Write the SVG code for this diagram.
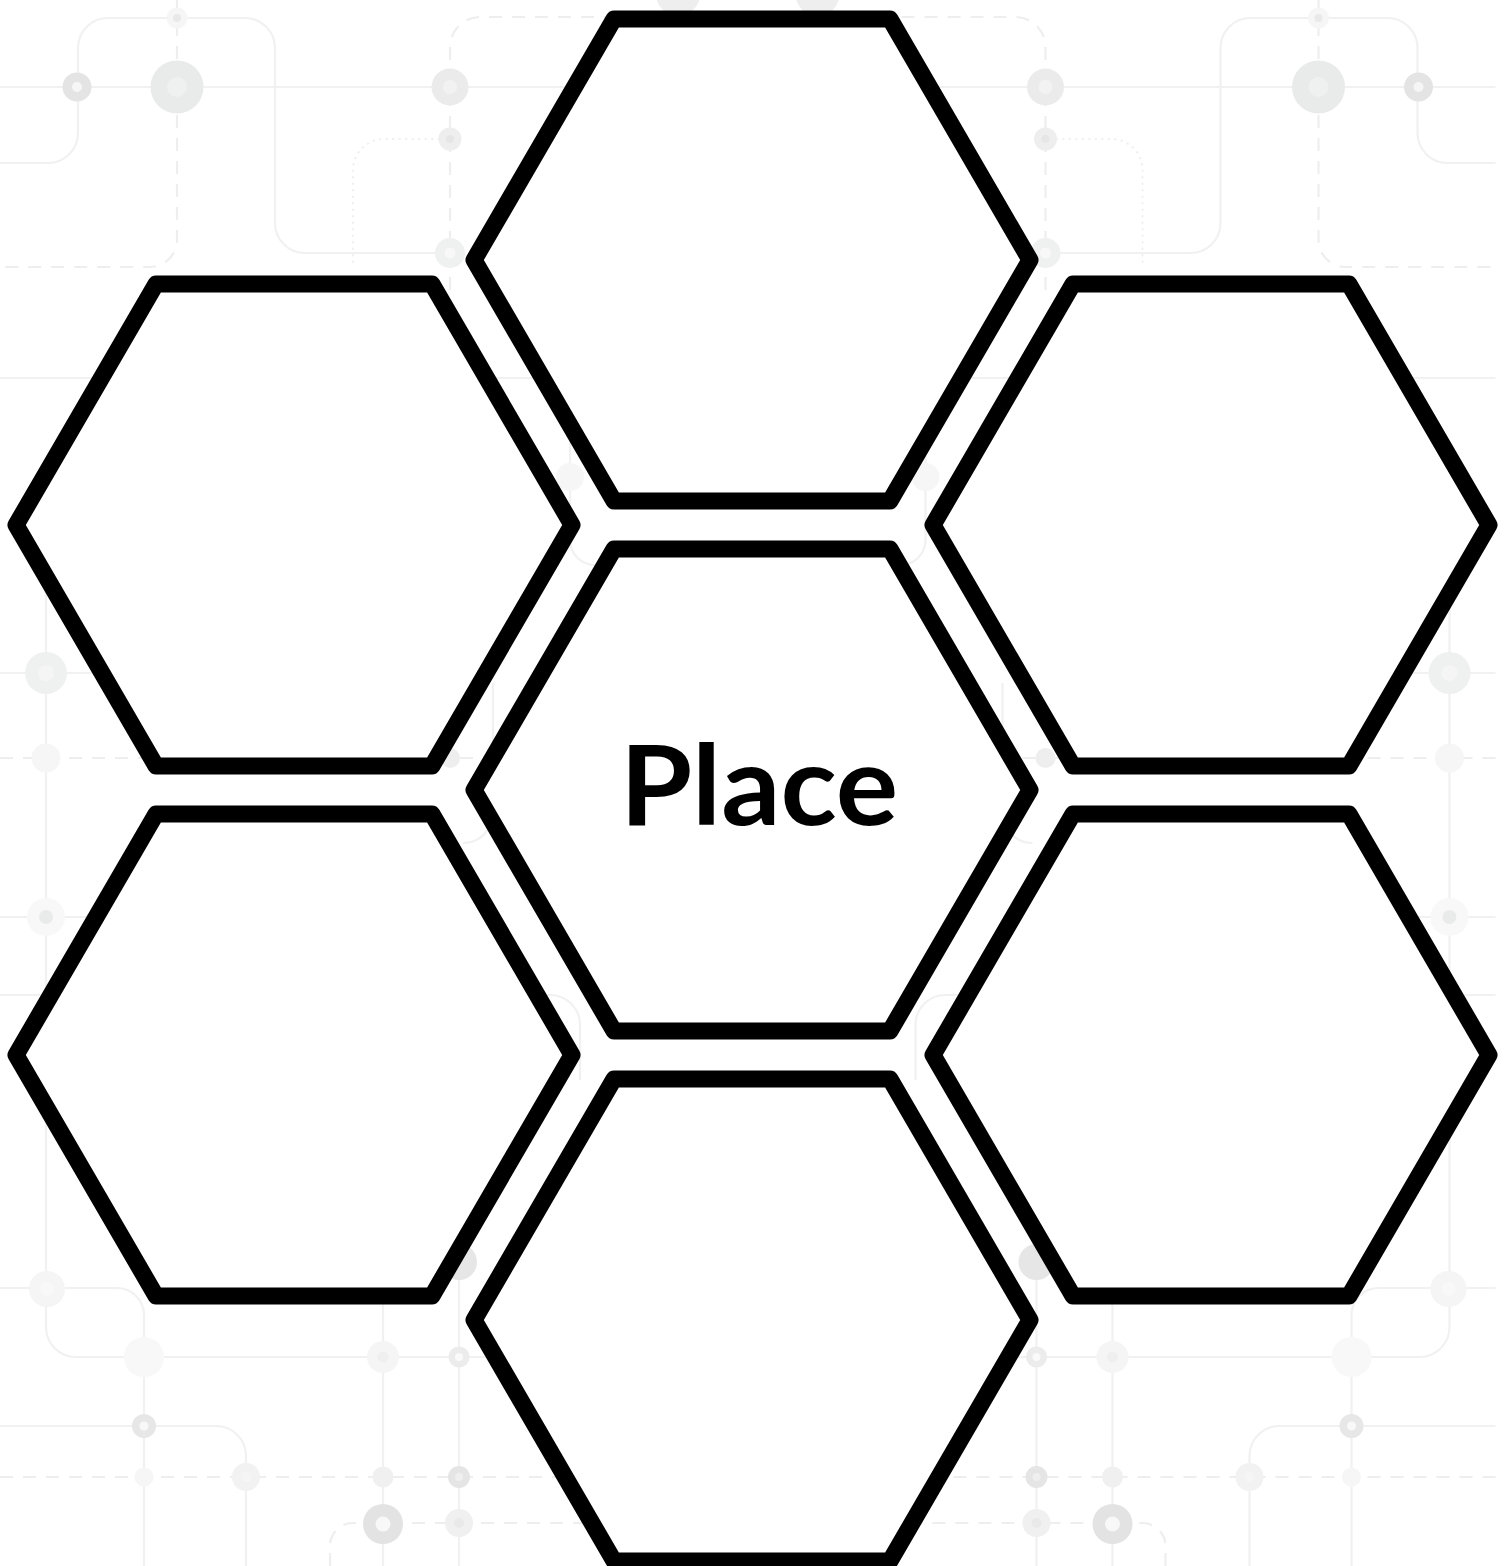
<svg xmlns="http://www.w3.org/2000/svg" xmlns:xlink="http://www.w3.org/1999/xlink" width="1509" height="1566" viewBox="0 0 1509 1566">
<style>
.ln{fill:none;stroke:#f1f1f1;stroke-width:2.2}
.dl{fill:none;stroke:#eeeeee;stroke-width:2.2;stroke-dasharray:13 10}
.dt{fill:none;stroke:#efefef;stroke-width:2;stroke-dasharray:0.5 6;stroke-linecap:round}
.hex{fill:#ffffff;stroke:#000000;stroke-width:17;stroke-linejoin:round}
.lbl{font-family:Lato,"Open Sans","Liberation Sans",sans-serif;font-weight:700;font-size:112px;fill:#000000}
</style>
<defs>
<polygon id="hexShape" points="-278,0 -138,-241 138,-241 278,0 138,241 -138,241"/>
<g id="bgL">
<path class="ln" d="M0,87 H748"/>
<path class="ln" d="M0,163 H48 A30,30 0 0 0 78,133 V48 A30,30 0 0 1 108,18 H245 A30,30 0 0 1 275,48 V223 A30,30 0 0 0 305,253 H450"/>
<path class="ln" d="M0,378 H748"/>
<path class="ln" d="M46,590 V1327 A30,30 0 0 0 76,1357 H748"/>
<path class="ln" d="M0,673 H120"/>
<path class="ln" d="M0,917 H100"/>
<path class="ln" d="M0,995 H550 A30,30 0 0 1 580,1025 V1080"/>
<path class="ln" d="M0,1288 H117 A27,27 0 0 1 144,1315 V1566"/>
<path class="ln" d="M0,1426 H216 A30,30 0 0 1 246,1456 V1566"/>
<path class="ln" d="M383,1300 V1566"/>
<path class="ln" d="M459,1240 V1566"/>
<path class="ln" d="M493,683 V813 A30,30 0 0 1 463,843"/>
<path class="ln" d="M570,440 V540 A25,25 0 0 0 595,565"/>
<path class="dl" d="M177,0 V240 A27,27 0 0 1 150,267 H0"/>
<path class="dl" d="M450,290 V47 A30,30 0 0 1 480,17 H748"/>
<path class="dl" d="M0,758 H748"/>
<path class="dl" d="M0,1477 H748"/>
<path class="dl" d="M330,1566 V1546 A23,23 0 0 1 353,1523 H748"/>
<path class="dt" d="M353,262 V170 A31,31 0 0 1 384,139 H450"/>
<circle cx="77" cy="87" r="14.5" fill="#e4e4e4"/><circle cx="77" cy="87" r="5" fill="#f6f6f6"/>
<circle cx="177" cy="87" r="26.5" fill="#e9eaea"/><circle cx="177" cy="87" r="10" fill="#eff0f0"/>
<circle cx="177" cy="18" r="10.5" fill="#f6f6f6"/><circle cx="177" cy="18" r="4" fill="#e9e9e9"/>
<circle cx="450" cy="87" r="18.5" fill="#ebebeb"/><circle cx="450" cy="87" r="7" fill="#f2f2f2"/>
<circle cx="450" cy="139" r="11.5" fill="#eeeeee"/><circle cx="450" cy="139" r="4" fill="#e6e6e6"/>
<circle cx="450" cy="253" r="15" fill="#eff0f0"/><circle cx="450" cy="253" r="5.5" fill="#f8f8f8"/>
<circle cx="678" cy="-6" r="22" fill="#eeeeee"/>
<circle cx="570" cy="477" r="14" fill="#f6f6f6"/>
<circle cx="450" cy="758" r="10" fill="#eeeeee"/>
<circle cx="46" cy="673" r="21" fill="#eff0f0"/><circle cx="46" cy="673" r="8" fill="#f5f5f5"/>
<circle cx="46" cy="758" r="14.5" fill="#f6f6f6"/>
<circle cx="46" cy="917" r="19" fill="#f8f8f8"/><circle cx="46" cy="917" r="7" fill="#e9eaea"/>
<circle cx="47" cy="1289" r="18" fill="#f5f5f5"/><circle cx="47" cy="1289" r="7" fill="#f8f8f8"/>
<circle cx="144" cy="1357" r="20" fill="#f8f8f8"/>
<circle cx="144" cy="1426" r="12" fill="#e7e7e7"/><circle cx="144" cy="1426" r="4.5" fill="#f8f8f8"/>
<circle cx="144" cy="1477" r="9.5" fill="#f6f6f6"/>
<circle cx="246" cy="1477" r="14" fill="#f2f2f2"/><circle cx="246" cy="1477" r="5" fill="#f5f5f5"/>
<circle cx="383" cy="1357" r="16" fill="#f5f5f5"/><circle cx="383" cy="1357" r="5.5" fill="#efefef"/>
<circle cx="383" cy="1477" r="10.5" fill="#f0f0f0"/>
<circle cx="383" cy="1524" r="20" fill="#e3e3e3"/><circle cx="383" cy="1524" r="7.5" fill="#f8f8f8"/>
<circle cx="459" cy="1262" r="18" fill="#e6e6e6"/>
<circle cx="459" cy="1357" r="10.5" fill="#ececec"/><circle cx="459" cy="1357" r="4" fill="#fafafa"/>
<circle cx="459" cy="1477" r="11" fill="#e5e5e5"/><circle cx="459" cy="1477" r="4" fill="#efefef"/>
<circle cx="459" cy="1523" r="14" fill="#f0f0f0"/><circle cx="459" cy="1523" r="5" fill="#e9e9e9"/>
</g>
</defs>
<rect x="0" y="0" width="1509" height="1566" fill="#ffffff"/>
<g id="background">
<use href="#bgL" xlink:href="#bgL"/>
<use href="#bgL" xlink:href="#bgL" transform="matrix(-1 0 0 1 1495.5 0)"/>
</g>
<g id="connectors"></g>
<g id="nodes">
<g id="hex-top" transform="translate(752,260)"><use class="hex" href="#hexShape" xlink:href="#hexShape"/></g>
<g id="hex-left-top" transform="translate(294,525)"><use class="hex" href="#hexShape" xlink:href="#hexShape"/></g>
<g id="hex-right-top" transform="translate(1211,525)"><use class="hex" href="#hexShape" xlink:href="#hexShape"/></g>
<g id="hex-center" transform="translate(752,790)"><use class="hex" href="#hexShape" xlink:href="#hexShape"/><text class="lbl" x="7" y="35" text-anchor="middle" textLength="278" lengthAdjust="spacingAndGlyphs">Place</text></g>
<g id="hex-left-bottom" transform="translate(294,1055)"><use class="hex" href="#hexShape" xlink:href="#hexShape"/></g>
<g id="hex-right-bottom" transform="translate(1211,1055)"><use class="hex" href="#hexShape" xlink:href="#hexShape"/></g>
<g id="hex-bottom" transform="translate(752,1320)"><use class="hex" href="#hexShape" xlink:href="#hexShape"/></g>
</g>
</svg>
